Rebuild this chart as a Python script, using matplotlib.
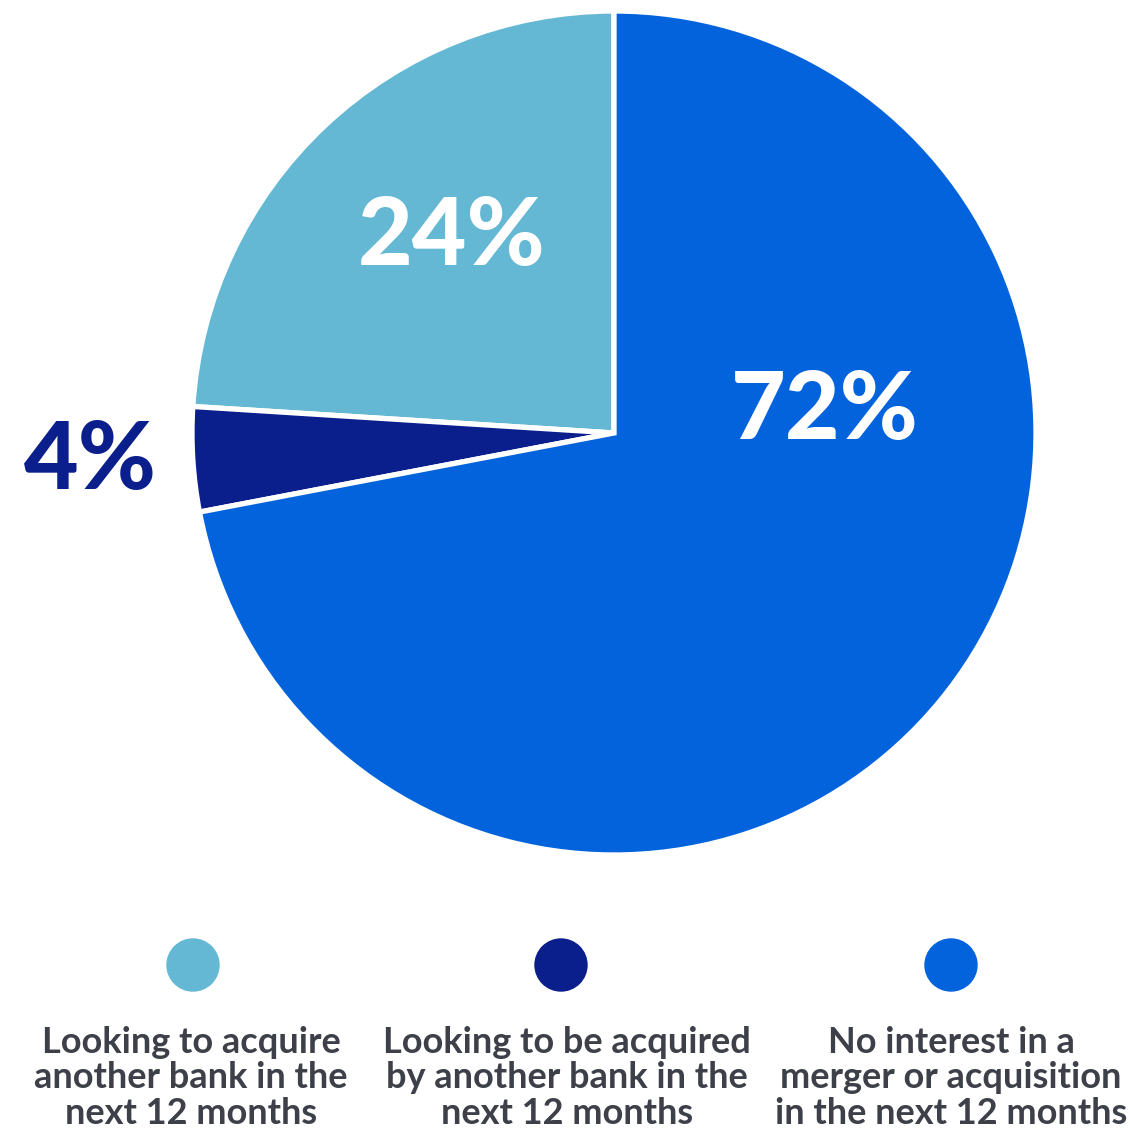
import matplotlib.pyplot as plt
from matplotlib.patches import Circle

labels = ['Looking to acquire\nanother bank in the\nnext 12 months',
          'Looking to be acquired\nby another bank in the\nnext 12 months',
          'No interest in a\nmerger or acquisition\nin the next 12 months']
shares = [24, 4, 72]
colors = ['#64b8d3', '#0a1e8c', '#0363dc']
pct_colors = ['white', '#0a1e8c', 'white']

fig = plt.figure(figsize=(11.3, 11.31), dpi=100)
ax = fig.add_axes([0, 0, 1, 1])

# pie drawn in pixel-like data coords (y axis flipped, so direction is reversed)
ax.pie(shares, colors=colors, startangle=-90, counterclock=False,
       center=(614, 433), radius=422,
       wedgeprops={'edgecolor': 'white', 'linewidth': 3.8})
ax.set_aspect('equal')
ax.set_xlim(0, 1130)
ax.set_ylim(1131, 0)
ax.axis('off')

pct_pos = [(452, 238), (90, 462), (825, 412)]
for val, (x, y), c in zip(shares, pct_pos, pct_colors):
    ax.text(x, y, f'{val}%', ha='center', va='center', color=c,
            fontsize=68, fontweight='black', family='Lato')

legend_x = [193, 561, 951]
text_x = [191, 567, 951]
for lab, cx, tx, col in zip(labels, legend_x, text_x, colors):
    ax.add_patch(Circle((cx, 965), 26, color=col))
    ax.text(tx, 1078, lab, ha='center', va='center', color='#3d4048',
            fontsize=26, fontweight='bold', family='Lato',
            linespacing=1.08)

fig.savefig('out.png', dpi=100)
